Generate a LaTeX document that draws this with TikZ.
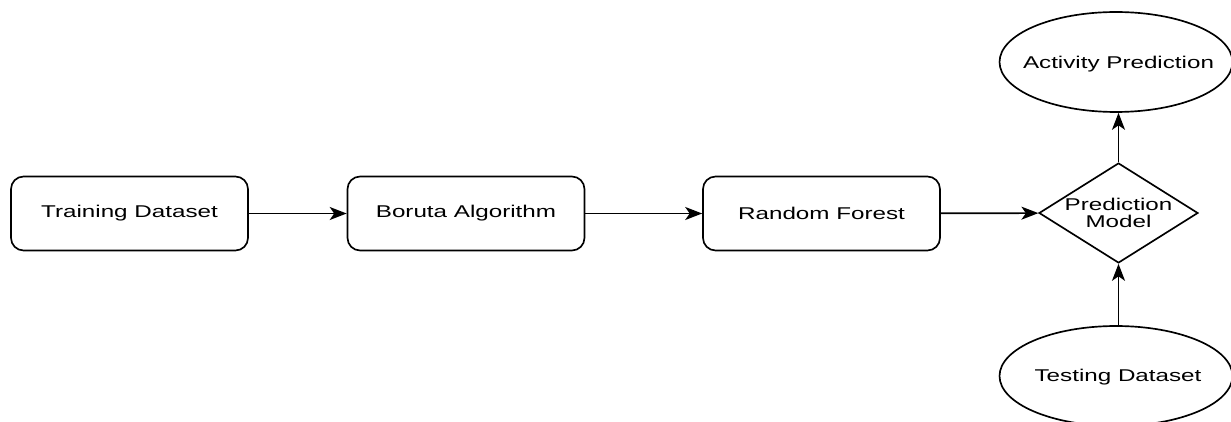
\documentclass[tikz,border=0pt]{standalone}
\usepackage{fontspec}
\setmainfont{Liberation Sans}
\newfontfamily\widefont[FakeStretch=1.42]{Liberation Sans}
\usetikzlibrary{shapes.geometric,arrows.meta}
\begin{document}
\begin{tikzpicture}[x=0.02cm,y=-0.02cm,
  every node/.style={font=\widefont\fontsize{9.7}{10}\selectfont},
  every label/.style={inner sep=0pt,align=center},
  proc/.style={draw,line width=0.95pt,rounded corners=0.25cm,minimum width=4.74cm,minimum height=1.48cm,inner sep=0pt},
  oval/.style={draw,line width=0.95pt,ellipse,minimum width=4.66cm,minimum height=2.0cm,inner sep=0pt},
  dec/.style={draw,line width=0.95pt,diamond,minimum width=3.18cm,minimum height=2.0cm,inner sep=0pt,aspect=1.59},
  conn/.style={line width=0.95pt,-{Stealth[length=0.34cm,width=0.26cm,inset=0.09cm]}}]
\useasboundingbox (0,0) rectangle (1231,422);
\clip (0,0) rectangle (1231,422);
\node[proc] (train) at (129.5,213.5) {Training Dataset};
\node[proc] (boruta) at (466,213.5) {Boruta Algorithm};
\node[proc] (rf) at (821.5,213.5) {Random Forest};
\node[dec,label={center:Prediction\\[-0.5pt]Model}] (pm) at (1118.5,213) {};
\node[oval,label={[xshift=0.05cm,yshift=-0.04cm]center:Activity Prediction}] (act) at (1116,62) {};
\node[oval,label={[xshift=0.04cm,yshift=-0.03cm]center:Testing Dataset}] (test) at (1116,376) {};
\draw[conn] (train) -- (boruta);
\draw[conn] (boruta) -- (rf);
\draw[conn] (rf) -- (pm);
\draw[conn] (pm.north) -- (act.south -| pm.north);
\draw[conn] (test.north -| pm.south) -- (pm.south);
\end{tikzpicture}
\end{document}
